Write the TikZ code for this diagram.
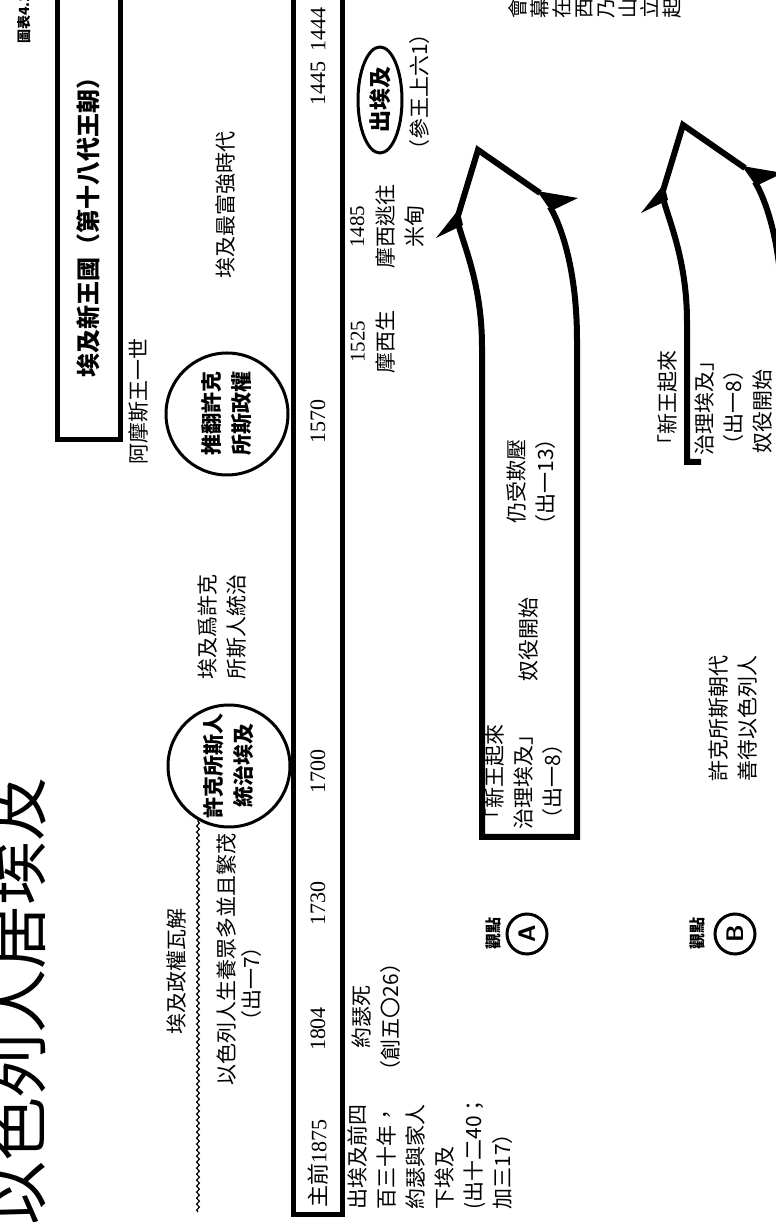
\documentclass[tikz,border=0pt]{standalone}
\usepackage{fontspec}
\setmainfont{Noto Sans CJK TC}
\newfontfamily\numfont{Liberation Serif}
\usetikzlibrary{shapes.geometric, decorations.pathmorphing}

% hollow block arrow: #1 closes (or not) the tail between the two shafts
\newcommand{\arrowshape}[1]{%
  \draw[bigline] (1003,457) .. controls (980,462) and (940,482) .. (875,482) #1 (882,577) .. controls (950,577) and (995,562) .. (1015,550);
  \draw[bigline] (1003,457) -- (1072,478) -- (1029,540);
  \fill (1013,459) -- (984,436) -- (997,463) -- cycle;
  \fill (1031,537) -- (1024,578) -- (1011,551) -- cycle;
}

\begin{document}
\begin{tikzpicture}[x=0.5pt, y=-0.5pt, rotate=90,
    every node/.style={rotate=90, inner sep=0pt},
    txt/.style={font=\fontsize{10.5}{14.5}\selectfont, align=center},
    txtl/.style={font=\fontsize{10.5}{14.5}\selectfont, align=left},
    yr/.style={font=\numfont\fontsize{11}{13}\selectfont},
    ring/.style={circle, draw, line width=1.5pt, minimum size=61pt, align=center, font=\bfseries\fontsize{10.5}{15}\selectfont},
    frame/.style={draw, line width=2.5pt},
    bigline/.style={line width=3pt, line join=miter},
    view/.style={font=\bfseries\fontsize{8}{9}\selectfont},
    letter/.style={circle, draw, line width=1.5pt, minimum size=20pt, font=\sffamily\bfseries\fontsize{12}{12}\selectfont}
  ]
  \useasboundingbox (0,0) rectangle (1222,776);

  % heading
  \node[anchor=west, font=\fontsize{32}{32}\selectfont] (title) at (-4,16) {以色列人居埃及};
  \node[anchor=west, font=\bfseries\fontsize{7}{8}\selectfont] (chart) at (1178,24) {圖表4.1};
  \node[font=\fontsize{10}{11}\selectfont, align=center] (tabernacle) at (1213,595) {會\\幕\\在\\西\\乃\\山\\立\\起};

  % new kingdom
  \draw[frame] (782,57) rectangle (1240,120);
  \node[font=\bfseries\fontsize{12}{14}\selectfont] (kingdom) at (1000,88) {埃及新王國（第十八代王朝）};
  \node[txt, anchor=west] (ahmose) at (757,139) {阿摩斯王一世};
  \node[ring] (overthrow) at (808,227) {推翻許克\\所斯政權};
  \node[txt] (golden) at (1017,225) {埃及最富強時代};

  % hyksos
  \node[txt] (ruled) at (595,222) {埃及爲許克\\所斯人統治};
  \node[ring] (hyksos) at (456,229) {許克所斯人\\統治埃及};
  \node[txt] (collapse) at (250,177) {埃及政權瓦解};
  \draw[decorate, decoration={snake, amplitude=0.7pt, segment length=3pt}, line width=0.6pt] (10,198) -- (402,198);
  \node[txt] (multiply) at (262,227) {以色列人生養眾多並且繁茂};
  \node[txt] (ref17) at (238,252) {（出一7）};

  % time line
  \draw[frame] (7,293) rectangle (1240,342);
  \node[yr, anchor=west] (y1875) at (14,318) {{\rmfamily 主前}1875};
  \foreach \yr/\pos in {1804/193, 1730/318, 1700/450, 1570/800, 1445/1138, 1444/1192}
    \node[yr] (y\yr) at (\pos,318) {\yr};

  % below the line
  \node[txtl, anchor=north west] (sojourn) at (12,347) {出埃及前四\\百三十年，\\約瑟與家人\\下埃及\\(出十二40；\\加三17）};
  \node[txt] (joseph) at (205,376) {約瑟死\\（創五〇26）};
  \node[txt] (moses) at (880,373) {{\numfont 1525}\\摩西生};
  \node[txt] (midian) at (995,387) {{\numfont 1485}\\摩西逃往\\米甸};
  \node[ellipse, draw, line width=1.5pt, minimum width=53pt, minimum height=22pt, font=\bfseries\fontsize{11}{12}\selectfont] (exodus) at (1122,380) {出埃及};
  \node[txt] (kings) at (1130,420) {（參王上六1）};

  % view A
  \node[view] (viewA) at (288,493) {觀點};
  \node[letter] (markA) at (288,527) {A};
  \arrowshape{-- (385,482) -- (385,577) --}
  \node[txtl, anchor=north west] (newkingA) at (392,484) {「新王起來\\治理埃及」\\（出一8）};
  \node[txt] (slaveA) at (582,529) {奴役開始};
  \node[txt] (oppress) at (740,531) {仍受欺壓\\（出一13）};

  % view B
  \node[view] (viewB) at (288,697) {觀點};
  \node[letter] (markB) at (288,735) {B};
  \node[txt] (kind) at (503,733) {許克所斯朝代\\善待以色列人};
  \begin{scope}[shift={(25,205)}]
    \arrowshape{-- (735,482) -- (735,496) (735,577) --}
  \end{scope}
  \node[txtl, anchor=north west] (newkingB) at (766,657) {「新王起來\\[4pt]治理埃及」\\（出一8）};
  \node[txt, anchor=west] (slaveB) at (768,763) {奴役開始};
\end{tikzpicture}
\end{document}
